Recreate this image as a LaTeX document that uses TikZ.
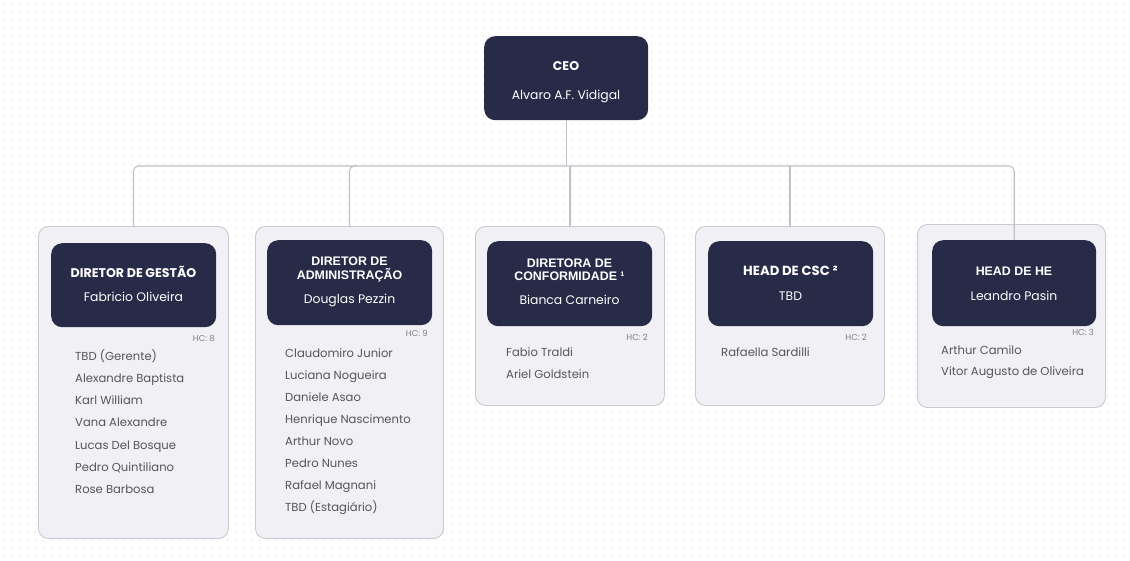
\documentclass[tikz,border=0pt]{standalone}
\usepackage{fontspec}
\setmainfont{Poppins}
\newfontfamily\titlefont{Liberation Sans}
\definecolor{navy}{HTML}{272B47}
\definecolor{cardfill}{HTML}{F1F1F5}
\definecolor{cardline}{HTML}{C9C9D1}
\definecolor{connc}{HTML}{BFC1C8}
\definecolor{namec}{HTML}{55555A}
\definecolor{dotc}{HTML}{E8E8EC}
\tikzset{
  card/.style={draw=cardline, fill=cardfill, line width=0.9pt, rounded corners=10pt, anchor=north west, inner sep=0pt},
  header/.style={fill=navy, rounded corners=11pt, anchor=north west, inner sep=0pt},
  conn/.style={draw=connc, line width=1.1pt},
  ttl/.style={text=white, font=\titlefont\bfseries\fontsize{12.4}{13.5}\selectfont, align=center, inner sep=0pt},
  ttlb/.style={text=white, font=\bfseries\fontsize{12.6}{14}\selectfont, align=center, inner sep=0pt},
  pname/.style={text=white, font=\fontsize{12.4}{14}\selectfont, inner sep=0pt},
  member/.style={text=namec, font=\fontsize{11.6}{13}\selectfont, anchor=base west, inner sep=0pt},
  hc/.style={text=namec!75, font=\fontsize{8.5}{9}\selectfont, anchor=east, inner sep=0pt}
}
\begin{document}
\begin{tikzpicture}[x=1pt,y=-1pt]
\useasboundingbox (0,0) rectangle (1130,560);
\fill[white] (0,0) rectangle (1130,560);
% dotted background
\foreach \r in {0,...,69}{
  \draw[dotc, line width=1.3pt, dash pattern=on 1.3pt off 6.7pt] (3,{4+8*\r}) -- (1130,{4+8*\r});
}
% CEO
\node[header, minimum width=164pt, minimum height=84pt] (ceo) at (484,36) {};
\node[ttlb] (ceot) at (566,66) {CEO};
\node[pname] (ceon) at (566,96) {Alvaro A.F. Vidigal};
% cards
\node[card, minimum width=190pt, minimum height=312pt] (c1) at (38,226) {};
\node[card, minimum width=188pt, minimum height=312pt] (c2) at (255,226) {};
\node[card, minimum width=189pt, minimum height=179pt] (c3) at (475,226) {};
\node[card, minimum width=189pt, minimum height=179pt] (c4) at (695,226) {};
\node[card, minimum width=188pt, minimum height=183pt] (c5) at (917,224) {};
% headers
\node[header, minimum width=165pt, minimum height=84pt] (h1) at (51,243) {};
\node[header, minimum width=165pt, minimum height=85pt] (h2) at (267,240) {};
\node[header, minimum width=165pt, minimum height=85pt] (h3) at (487,241) {};
\node[header, minimum width=165pt, minimum height=85pt] (h4) at (708,241) {};
\node[header, minimum width=164pt, minimum height=86pt] (h5) at (932,240) {};
% connectors
\coordinate (bus) at (0,166);
\draw[conn] (ceo.south) -- (ceo.south |- bus);
\draw[conn, rounded corners=5pt] (c1.north) |- (h5.north |- bus) -- (h5.north);
\draw[conn, rounded corners=5pt] (c2.north) |- ([xshift=8pt]c2.north |- bus);
\draw[conn] (c3.north) -- (c3.north |- bus);
\draw[conn] (c4.north) -- (c4.north |- bus);
% header texts
\node[ttlb] (t1) at (133.5,272) {DIRETOR DE GESTÃO};
\node[pname] (n1) at (133.5,297) {Fabricio Oliveira};
\node[ttl] (t2) at (349.5,269.5) {DIRETOR DE\\ADMINISTRAÇÃO};
\node[pname] (n2) at (349.5,300) {Douglas Pezzin};
\node[ttl] (t3) at (569.5,269.5) {DIRETORA DE\\CONFORMIDADE ¹};
\node[pname] (n3) at (569.5,300) {Bianca Carneiro};
\node[ttlb, font=\bfseries\fontsize{13.2}{14}\selectfont] (t4) at (790.5,271) {HEAD DE CSC ²};
\node[pname] (n4) at (790.5,296) {TBD};
\node[ttl] (t5) at (1014,271) {HEAD DE HE};
\node[pname] (n5) at (1014,296) {Leandro Pasin};
% HC labels
\node[hc] (hc1) at (215,338) {HC: 8};
\node[hc] (hc2) at (428,333) {HC: 9};
\node[hc] (hc3) at (648,337) {HC: 2};
\node[hc] (hc4) at (867,337) {HC: 2};
\node[hc] (hc5) at (1094,332) {HC: 3};
% members
\foreach \t [count=\i] in {TBD (Gerente),Alexandre Baptista,Karl William,Vana Alexandre,Lucas Del Bosque,Pedro Quintiliano,Rose Barbosa}
  \node[member] (m1-\i) at (75,{360+22.3*(\i-1)}) {\t};
\foreach \t [count=\i] in {Claudomiro Junior,Luciana Nogueira,Daniele Asao,Henrique Nascimento,Arthur Novo,Pedro Nunes,Rafael Magnani,TBD (Estagiário)}
  \node[member] (m2-\i) at (285,{357+22.1*(\i-1)}) {\t};
\foreach \t [count=\i] in {Fabio Traldi,Ariel Goldstein}
  \node[member] (m3-\i) at (506,{356+22*(\i-1)}) {\t};
\node[member] (m4-1) at (721,356) {Rafaella Sardilli};
\foreach \t [count=\i] in {Arthur Camilo,Vitor Augusto de Oliveira}
  \node[member] (m5-\i) at (941,{354+21*(\i-1)}) {\t};
\end{tikzpicture}
\end{document}
